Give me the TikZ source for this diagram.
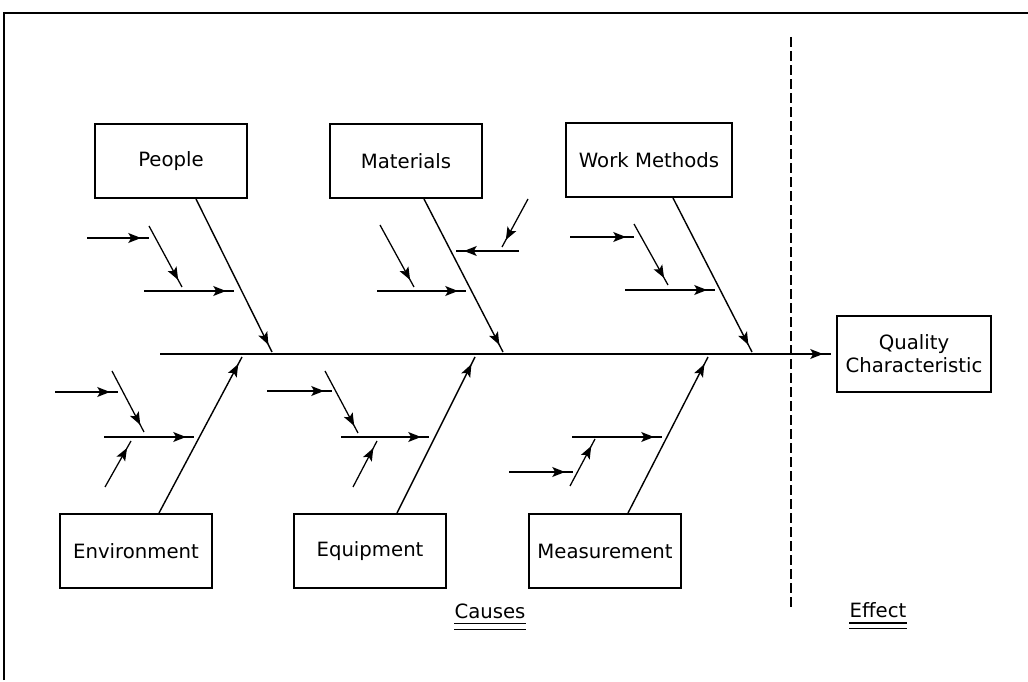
\documentclass[tikz,border=0pt]{standalone}
\usepackage{fontspec}
\setmainfont{DejaVu Sans}
\usetikzlibrary{arrows.meta,decorations.markings}

\tikzset{
    causebox/.style={draw,line width=0.05cm,minimum width=3.8cm,minimum height=1.85cm,inner sep=0pt,align=center},
    arrowmid/.style={postaction={decorate},
        decoration={markings,mark=at position -0.2cm with {\arrow{Stealth[length=9pt,width=7pt,inset=2pt]}}}},
    bone/.style={line width=1pt,arrowmid},
    twig/.style={line width=0.9pt,arrowmid},
    heading/.style={inner sep=0pt,anchor=base}
}

\begin{document}
\begin{tikzpicture}[x=0.025cm,y=-0.025cm,font=\fontsize{14}{16.5}\selectfont]
                \useasboundingbox (0,0) rectangle (1028,682);
                \draw[line width=0.05cm] (4,680) -- (4,13) -- (1028,13);

                \node[causebox] (people) at (171,161) {People};
                \node[causebox] (materials) at (406,161) {Materials};
                \node[causebox,minimum width=4.15cm] (methods) at (649,160) {Work Methods};
                \node[causebox] (environment) at (136,551) {Environment};
                \node[causebox] (equipment) at (370,551) {Equipment};
                \node[causebox] (measurement) at (605,551) {Measurement};
                \node[causebox,minimum width=3.85cm,minimum height=1.9cm] (quality) at (914,354)
                    {Quality\\Characteristic};

                % spine
                \coordinate (tail) at (160,354);
                \coordinate (head) at (831,354);
                \draw[bone] (tail) -- (head);
                \draw[line width=0.05cm,dash pattern=on 0.25cm off 0.1cm] (791,37) -- (791,608);

                % main bones
                \coordinate (pe) at (272,352);
                \coordinate (ma) at (503,352);
                \coordinate (wm) at (752,352);
                \coordinate (en) at (242,357);
                \coordinate (eq) at (475,357);
                \coordinate (me) at (708,357);
                \draw[bone] ([xshift=0.625cm]people.south) -- (pe);
                \draw[bone] ([xshift=0.45cm]materials.south) -- (ma);
                \draw[bone] ([xshift=0.6cm]methods.south) -- (wm);
                \draw[bone] ([xshift=0.575cm]environment.north) -- (en);
                \draw[bone] ([xshift=0.675cm]equipment.north) -- (eq);
                \draw[bone] ([xshift=0.575cm]measurement.north) -- (me);

                % small causes
                \draw[twig] (87,238) -- (149,238);
                \draw[twig] (149,226) -- (182,287);
                \draw[twig] (144,291) -- (234,291);

                \draw[twig] (380,225) -- (414,287);
                \draw[twig] (377,291) -- (466,291);
                \draw[twig] (528,199) -- (502,247);
                \draw[twig] (519,251) -- (456,251);

                \draw[twig] (570,237) -- (634,237);
                \draw[twig] (634,224) -- (668,285);
                \draw[twig] (625,290) -- (715,290);

                \draw[twig] (55,392) -- (118,392);
                \draw[twig] (112,371) -- (144,432);
                \draw[twig] (104,437) -- (194,437);
                \draw[twig] (105,487) -- (131,441);

                \draw[twig] (267,391) -- (332,391);
                \draw[twig] (325,371) -- (358,433);
                \draw[twig] (341,437) -- (429,437);
                \draw[twig] (353,487) -- (377,441);

                \draw[twig] (572,437) -- (662,437);
                \draw[twig] (570,486) -- (595,439);
                \draw[twig] (509,472) -- (573,472);

                \node[heading] (causes) at (490,618) {Causes};
                \draw[line width=0.8pt] ([yshift=-0.13cm]causes.base west) -- ([yshift=-0.13cm]causes.base east);
                \draw[line width=0.8pt] ([yshift=-0.29cm]causes.base west) -- ([yshift=-0.29cm]causes.base east);

                \node[heading] (effect) at (878,617) {Effect};
                \draw[line width=0.8pt] ([yshift=-0.15cm]effect.base west) -- ([yshift=-0.15cm]effect.base east);
                \draw[line width=0.8pt] ([yshift=-0.28cm]effect.base west) -- ([yshift=-0.28cm]effect.base east);
\end{tikzpicture}
\end{document}
